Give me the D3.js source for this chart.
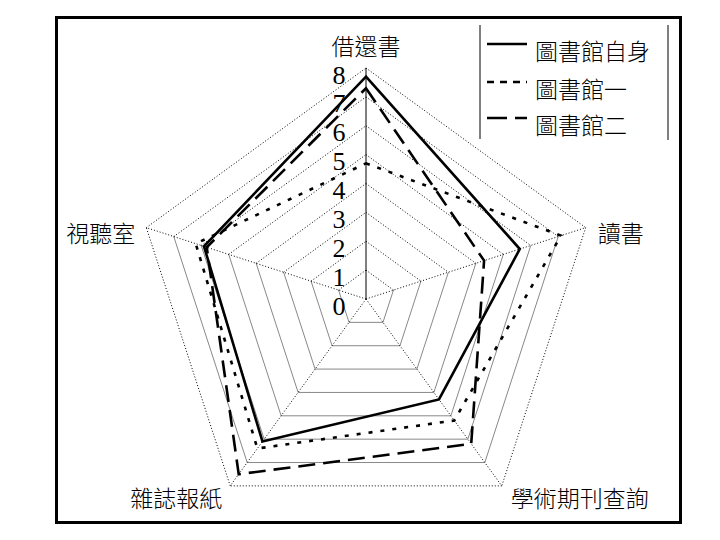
<!DOCTYPE html>
<html>
<head>
<meta charset="utf-8">
<script src="https://cdn.jsdelivr.net/npm/d3@7"></script>
<style>
  body { margin: 0; background: #fff; }
  svg { display: block; }
</style>
</head>
<body>
<svg width="720" height="540"></svg>
<script>
// categories round the radar, clockwise from the top
const axes = ["借還書", "讀書", "學術期刊查詢", "雜誌報紙", "視聽室"]
const seriesNames = ["圖書館自身", "圖書館一", "圖書館二"]
const selfVals = [7.7, 5.6, 4.3, 6.1, 5.9]
const lib1Vals = [4.7, 7.1, 5.2, 6.4, 6.2]
const lib2Vals = [7.3, 4.3, 6.2, 7.5, 5.8]
const tickVals = [0, 1, 2, 3, 4, 5, 6, 7, 8]

const cjk = "'Noto Sans CJK TC', 'Noto Sans CJK SC', sans-serif"
const svg = d3.select("svg")
const cx = 366, cy = 299
const r = d3.scaleLinear().domain([0, 8]).range([0, 231])
const step = 2*Math.PI/axes.length
const ang = i => -Math.PI/2 + i*step
const pt = (i, v) => [cx + r(v)*Math.cos(ang(i)), cy + r(v)*Math.sin(ang(i))]

// outer frame
svg.append("rect")
	.attr("x", 56.5).attr("y", 17.5)
	.attr("width", 624).attr("height", 505)
	.attr("fill", "none").attr("stroke", "#000").attr("stroke-width", 3)

const g = svg.append("g")

// grid rings, the lower three edges come out as thin solid lines in the original
tickVals.slice(1).forEach(k=>{
	axes.forEach((a, i)=>{
		let j = (i+1)%axes.length
		let p = pt(i, k), q = pt(j, k)
		let lower = (i===1 || i===2 || i===3) && k<8
		g.append("line")
			.attr("x1", p[0]).attr("y1", p[1])
			.attr("x2", q[0]).attr("y2", q[1])
			.attr("stroke", lower ? "#555" : "#000")
			.attr("stroke-width", lower ? 0.7 : 1)
			.attr("stroke-dasharray", lower ? null : "1,2")
	})
})

// spokes
axes.forEach((a, i)=>{
	let p = pt(i, 8)
	g.append("line")
		.attr("x1", cx).attr("y1", cy)
		.attr("x2", p[0]).attr("y2", p[1])
		.attr("stroke", "#000")
		.attr("stroke-width", 1)
		.attr("stroke-dasharray", i===0 ? null : "1,2")
})

// value labels on the top axis
g.selectAll(".tick")
	.data(tickVals)
	.join("text")
	  .attr("class", "tick")
	  .attr("x", cx - 27)
	  .attr("y", d=>cy - r(d) + 7)
	  .attr("text-anchor", "middle")
	  .attr("dominant-baseline", "central")
	  .attr("font-family", "'Liberation Serif', 'Times New Roman', serif")
	  .attr("font-size", 26)
	  .attr("fill", "#000")
	  .text(d=>d)

// category labels
const labelPos = [
	{dx: 0, dy: -13, anchor: "middle", base: "auto"},
	{dx: 12, dy: 4, anchor: "start", base: "central"},
	{dx: 9, dy: 11, anchor: "start", base: "central"},
	{dx: -8, dy: 11, anchor: "end", base: "central"},
	{dx: -11, dy: 4, anchor: "end", base: "central"}
]
axes.forEach((a, i)=>{
	let p = pt(i, 8)
	g.append("text")
		.attr("x", p[0] + labelPos[i].dx)
		.attr("y", p[1] + labelPos[i].dy)
		.attr("text-anchor", labelPos[i].anchor)
		.attr("dominant-baseline", labelPos[i].base)
		.attr("font-family", cjk)
		.attr("font-weight", 300)
		.attr("font-size", 23)
		.attr("fill", "#000")
		.text(a)
})

// series
const series = [
	{name: seriesNames[0], vals: selfVals, dash: null, legendDash: null},
	{name: seriesNames[1], vals: lib1Vals, dash: "4,8", legendDash: "7,6"},
	{name: seriesNames[2], vals: lib2Vals, dash: "17,8", legendDash: "20,8"}
]
const radar = d3.lineRadial()
	.angle((d, i)=>i*step)
	.radius(d=>r(d))
	.curve(d3.curveLinearClosed)

g.selectAll(".series")
	.data(series.slice().reverse())
	.join("path")
	  .attr("class", "series")
	  .attr("transform", `translate(${cx},${cy})`)
	  .attr("d", d=>radar(d.vals))
	  .attr("fill", "none")
	  .attr("stroke", "#000")
	  .attr("stroke-width", 2.6)
	  .attr("stroke-dasharray", d=>d.dash)

// legend, only its two side borders show
const lg = svg.append("g")
lg.append("line").attr("x1", 480).attr("y1", 25).attr("x2", 480).attr("y2", 139)
	.attr("stroke", "#000").attr("stroke-width", 1)
lg.append("line").attr("x1", 668).attr("y1", 25).attr("x2", 668).attr("y2", 140)
	.attr("stroke", "#000").attr("stroke-width", 1)
const ly = [44, 82, 118]
series.forEach((s, i)=>{
	lg.append("line")
		.attr("x1", 487).attr("y1", ly[i])
		.attr("x2", 527).attr("y2", ly[i])
		.attr("stroke", "#000").attr("stroke-width", 2.6)
		.attr("stroke-dasharray", s.legendDash)
	lg.append("text")
		.attr("x", 535).attr("y", ly[i] + 6)
		.attr("dominant-baseline", "central")
		.attr("font-family", cjk)
		.attr("font-weight", 300)
		.attr("font-size", 23)
		.attr("fill", "#000")
		.text(s.name)
})
</script>
</body>
</html>
